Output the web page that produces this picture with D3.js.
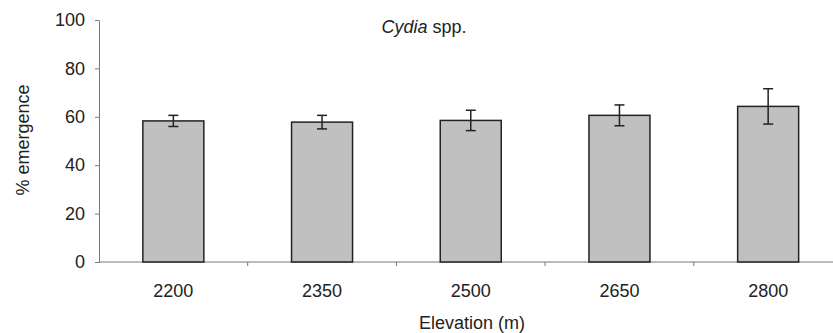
<!DOCTYPE html>
<html>
<head>
<meta charset="utf-8">
<script src="https://cdn.jsdelivr.net/npm/d3@7"></script>
<style>
  body { margin: 0; background: #fff; }
  text { font-family: "Liberation Sans", Arial, sans-serif; fill: #222; }
</style>
</head>
<body>
<div class="chart"></div>
<script>
// data
var elevations = ["2200", "2350", "2500", "2650", "2800"];
var emergence = [58.3, 57.8, 58.5, 60.6, 64.3];
var errors = [2.3, 2.8, 4.2, 4.3, 7.3];
var yTicks = [0, 20, 40, 60, 80, 100];

var width = 833, height = 333;
var mLeft = 99, mTop = 20, mBottom = 262;
var band = 148.7;
var fs = "18px";

var svg = d3.select(".chart").append("svg")
  .attr("width", width).attr("height", height);

var x = d3.scaleBand()
  .domain(elevations)
  .range([mLeft, mLeft + band * elevations.length])
  .paddingInner(0).paddingOuter(0);

var y = d3.scaleLinear().domain([0, 100]).range([mBottom, mTop]);

// y axis
var yAxis = svg.append("g")
  .attr("transform", "translate(" + mLeft + ",0)")
  .call(d3.axisLeft(y).tickValues(yTicks).tickSize(4).tickPadding(10).tickSizeOuter(0));
yAxis.select(".domain").attr("stroke", "#777");
yAxis.selectAll(".tick line").attr("stroke", "#777");
yAxis.selectAll("text").style("font-size", fs).attr("fill", "#222")
  .style("font-family", "'Liberation Sans', Arial, sans-serif");

// x axis: ticks sit between the categories
var xAxis = svg.append("g")
  .attr("transform", "translate(0," + mBottom + ")");
xAxis.append("line")
  .attr("x1", x.range()[0]).attr("x2", x.range()[1])
  .attr("stroke", "#777");
xAxis.selectAll(".sep")
  .data(elevations.slice(1))
  .enter().append("line")
  .attr("class", "sep")
  .attr("x1", function (d) { return x(d); })
  .attr("x2", function (d) { return x(d); })
  .attr("y1", 0).attr("y2", 4)
  .attr("stroke", "#777");
xAxis.selectAll(".lbl")
  .data(elevations)
  .enter().append("text")
  .attr("class", "lbl")
  .attr("x", function (d) { return x(d) + x.bandwidth() / 2; })
  .attr("y", 35)
  .attr("text-anchor", "middle")
  .style("font-size", fs)
  .text(function (d) { return d; });

// bars
var barW = 61;
svg.selectAll(".bar")
  .data(emergence)
  .enter().append("rect")
  .attr("class", "bar")
  .attr("x", function (d, i) { return x(elevations[i]) + x.bandwidth() / 2 - barW / 2; })
  .attr("y", function (d) { return y(d); })
  .attr("width", barW)
  .attr("height", function (d) { return mBottom - y(d); })
  .attr("fill", "#c0c0c0")
  .attr("stroke", "#222")
  .attr("stroke-width", 1.5);

// error bars
var eb = svg.selectAll(".err")
  .data(emergence)
  .enter().append("g")
  .attr("class", "err")
  .attr("stroke", "#222")
  .attr("stroke-width", 1.5);
eb.append("line")
  .attr("x1", function (d, i) { return x(elevations[i]) + x.bandwidth() / 2; })
  .attr("x2", function (d, i) { return x(elevations[i]) + x.bandwidth() / 2; })
  .attr("y1", function (d, i) { return y(d + errors[i]); })
  .attr("y2", function (d, i) { return y(d - errors[i]); });
[1, -1].forEach(function (s) {
  eb.append("line")
    .attr("x1", function (d, i) { return x(elevations[i]) + x.bandwidth() / 2 - 5; })
    .attr("x2", function (d, i) { return x(elevations[i]) + x.bandwidth() / 2 + 5; })
    .attr("y1", function (d, i) { return y(d + s * errors[i]); })
    .attr("y2", function (d, i) { return y(d + s * errors[i]); });
});

// title
var title = svg.append("text")
  .attr("x", 424).attr("y", 33)
  .attr("text-anchor", "middle")
  .style("font-size", fs);
title.append("tspan").style("font-style", "italic").text("Cydia");
title.append("tspan").text(" spp.");

// axis titles
svg.append("text")
  .attr("transform", "translate(29,140) rotate(-90)")
  .attr("text-anchor", "middle")
  .style("font-size", fs)
  .text("% emergence");

svg.append("text")
  .attr("x", 472).attr("y", 329)
  .attr("text-anchor", "middle")
  .style("font-size", fs)
  .text("Elevation (m)");
</script>
</body>
</html>
